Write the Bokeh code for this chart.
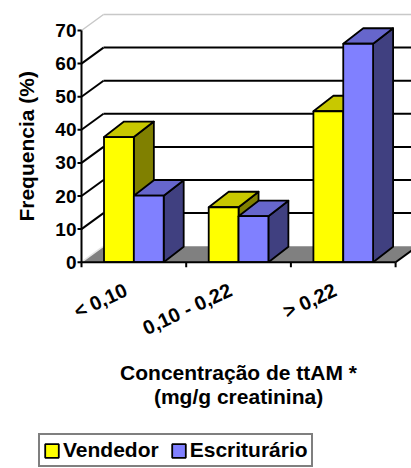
import math

from bokeh.plotting import figure
from bokeh.models import Range1d, Legend, LegendItem, ColumnDataSource
from bokeh.core.properties import value
from bokeh.embed import file_html
from bokeh.resources import INLINE

# ---- data -------------------------------------------------------------
categories = ["< 0,10", "0,10 - 0,22", "> 0,22"]
vendedor = [37.8, 16.6, 45.6]
escriturario = [20.1, 13.9, 66.0]
y_ticks = [0, 10, 20, 30, 40, 50, 60, 70]
series_names = ["Vendedor", "Escriturário"]

# ---- layout (pixels) ----------------------------------------------------
W, H = 411, 468
LEFT = 81            # x of the value axis
PX_CAT = 104.7       # pixels per category slot
PX_UNIT = 3.31       # pixels per percentage point
ZERO_PX = 261.7      # distance of the value 0 from the top edge

def dx(px):
    return px / PX_CAT

def dy(px):
    return px / PX_UNIT

WALL_X, WALL_Y = dx(22), dy(16)     # depth of the back wall
BAR_X, BAR_Y = dx(20), dy(15.5)     # depth of each column
BAR_W = 0.285
N = len(categories)
Y_MAX = y_ticks[-1]

FONT = "Liberation Sans"

p = figure(width=W, height=H,
           x_range=Range1d(-LEFT / PX_CAT, (W - LEFT) / PX_CAT),
           y_range=Range1d(-(H - ZERO_PX) / PX_UNIT, ZERO_PX / PX_UNIT),
           x_axis_type=None, y_axis_type=None,
           toolbar_location=None, output_backend="svg", min_border=0)
p.grid.visible = False
p.outline_line_color = None
p.background_fill_color = "white"
p.border_fill_color = "white"

# ---- floor --------------------------------------------------------------
p.patch([0, N, N + WALL_X, WALL_X], [0, 0, WALL_Y, WALL_Y],
        fill_color="#808080", line_color=None)
p.segment(x0=[N], y0=[0], x1=[N + WALL_X], y1=[WALL_Y],
          line_color="black", line_width=2)
p.segment(x0=[0], y0=[0], x1=[WALL_X], y1=[WALL_Y],
          line_color="#e6e6e6", line_width=1.5)

# ---- back wall gridlines and side-wall diagonals -------------------------
grid_vals = [v for v in y_ticks if 0 < v < Y_MAX]
p.segment(x0=[WALL_X] * len(grid_vals), y0=[v + WALL_Y for v in grid_vals],
          x1=[N + WALL_X] * len(grid_vals), y1=[v + WALL_Y for v in grid_vals],
          line_color="black", line_width=2)
p.segment(x0=[0] * len(grid_vals), y0=grid_vals,
          x1=[WALL_X] * len(grid_vals), y1=[v + WALL_Y for v in grid_vals],
          line_color="black", line_width=2)
# top edge of the walls
p.segment(x0=[0, WALL_X], y0=[Y_MAX, Y_MAX + WALL_Y],
          x1=[WALL_X, N + WALL_X], y1=[Y_MAX + WALL_Y, Y_MAX + WALL_Y],
          line_color="#c8c8c8", line_width=1.5)

# ---- 3-D columns ------------------------------------------------------
series = [
    (vendedor, -BAR_W, "#ffff00", "#c8c800", "#808000"),
    (escriturario, 0.0, "#8080ff", "#6666cc", "#404080"),
]
fronts = []
for vals, off, c_front, c_top, c_side in series:
    x0 = [i + 0.5 + off for i in range(N)]
    x1 = [x + BAR_W for x in x0]
    side_xs = [[b, b + BAR_X, b + BAR_X, b] for b in x1]
    side_ys = [[0, BAR_Y, v + BAR_Y, v] for v in vals]
    p.patches(side_xs, side_ys, fill_color=c_side, line_color="black",
              line_width=1.8, line_join="round")
    top_xs = [[a, b, b + BAR_X, a + BAR_X] for a, b in zip(x0, x1)]
    top_ys = [[v, v, v + BAR_Y, v + BAR_Y] for v in vals]
    p.patches(top_xs, top_ys, fill_color=c_top, line_color="black",
              line_width=1.8, line_join="round")
    src = ColumnDataSource(dict(left=x0, right=x1, top=vals, bottom=[0] * N))
    r = p.quad(left="left", right="right", top="top", bottom="bottom",
               source=src, fill_color=c_front, line_color="black",
               line_width=1.8)
    fronts.append(r)

# ---- value axis -------------------------------------------------------
p.segment(x0=[0], y0=[0], x1=[0], y1=[Y_MAX], line_color="black",
          line_width=2)
p.segment(x0=[-dx(4)] * len(y_ticks), y0=y_ticks,
          x1=[0] * len(y_ticks), y1=y_ticks,
          line_color="black", line_width=2)
p.text(x=[-dx(5)] * len(y_ticks), y=y_ticks, text=[str(v) for v in y_ticks],
       text_align="right", text_baseline="middle",
       text_font=value(FONT), text_font_style="bold",
       text_font_size="19px", text_color="black")
p.text(x=[-dx(55)], y=[Y_MAX / 2], text=["Frequencia (%)"],
       angle=math.pi / 2, text_align="center", text_baseline="middle",
       text_font=value(FONT), text_font_style="bold",
       text_font_size="21px", text_color="black")

# ---- category axis (front edge of the floor) --------------------------
p.segment(x0=[0], y0=[0], x1=[N], y1=[0], line_color="black", line_width=2)
p.segment(x0=list(range(N + 1)), y0=[0] * (N + 1),
          x1=list(range(N + 1)), y1=[-dy(5)] * (N + 1),
          line_color="black", line_width=2)

p.text(x=[i + 0.5 - dx(8) for i in range(N)], y=[-dy(26.5)] * N,
       text=categories, angle=0.436,
       text_align="right", text_baseline="middle",
       text_font=value(FONT), text_font_style="bold",
       text_font_size="20px", text_color="black")

p.text(x=[N / 2, N / 2], y=[-dy(110), -dy(134)],
       text=["Concentração de ttAM *", "(mg/g creatinina)"],
       text_align="center", text_baseline="alphabetic",
       text_font=value(FONT), text_font_style="bold",
       text_font_size="21px", text_color="black")

# ---- legend -----------------------------------------------------------
legend = Legend(items=[LegendItem(label=n, renderers=[r])
                       for n, r in zip(series_names, fronts)],
                orientation="horizontal", location=(38, 1),
                border_line_color="black", border_line_width=2,
                background_fill_color="white", background_fill_alpha=1,
                padding=3, margin=0, spacing=11, label_standoff=3,
                glyph_width=17, glyph_height=17,
                label_text_font=FONT, label_text_font_style="bold",
                label_text_font_size="21px", label_text_color="black")
p.add_layout(legend, "center")

open("out.html", "w").write(file_html(p, INLINE))
